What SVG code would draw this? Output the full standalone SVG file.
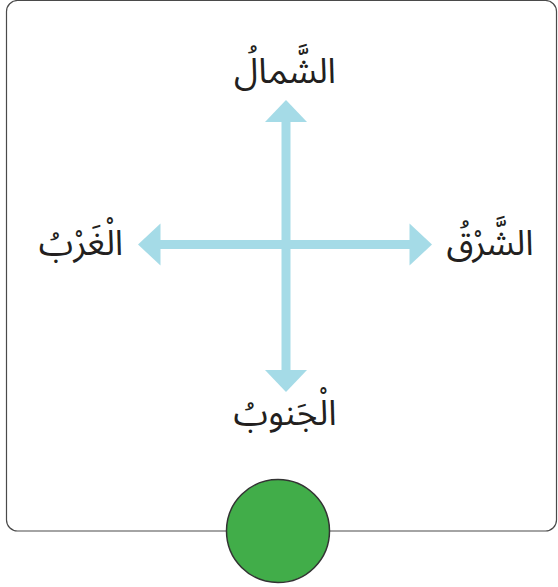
<svg xmlns="http://www.w3.org/2000/svg" width="558" height="587" viewBox="0 0 558 587">
<style>
.lbl{font-family:"Noto Sans Arabic","Noto Sans","DejaVu Sans",sans-serif;font-size:35px;fill:#231f20;text-anchor:middle}
.arr{fill:#a5dbe7}
</style>
<rect x="6.5" y="0.5" width="550" height="530.5" rx="11" fill="#fff" stroke="#4a4a4a" stroke-width="1.2"/>
<g id="connectors">
<rect class="arr" x="281.5" y="121" width="9" height="250"/>
<polygon class="arr" points="286,100 307,122 265,122"/>
<polygon class="arr" points="286,392 307,370 265,370"/>
<rect class="arr" x="159" y="240" width="251" height="9"/>
<polygon class="arr" points="138,244.5 160.5,223.5 160.5,265.5"/>
<polygon class="arr" points="432,244.5 409.5,223.5 409.5,265.5"/>
</g>
<g id="north"><text class="lbl" x="285" y="83">الشَّمالُ</text></g>
<g id="east"><text class="lbl" x="490" y="255">الشَّرْقُ</text></g>
<g id="west"><text class="lbl" x="81" y="255">الْغَرْبُ</text></g>
<g id="south"><text class="lbl" x="285" y="425">الْجَنوبُ</text></g>
<g id="dot"><circle cx="278" cy="531" r="51.5" fill="#41ad49" stroke="#333" stroke-width="1.5"/></g>
</svg>
